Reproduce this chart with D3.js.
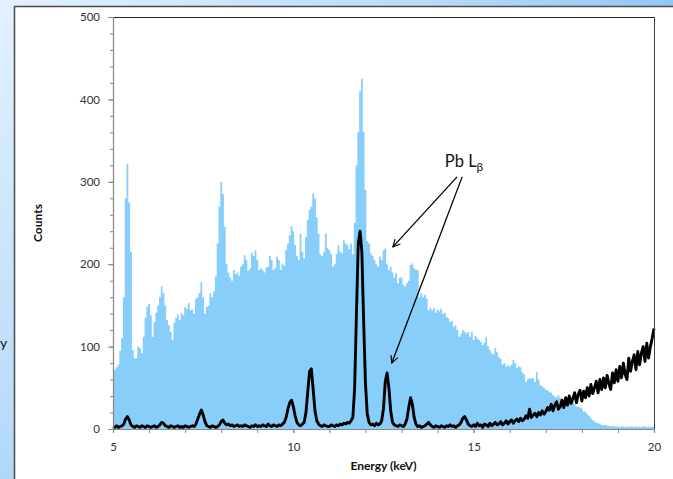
<!DOCTYPE html>
<html><head><meta charset="utf-8">
<script src="https://cdn.jsdelivr.net/npm/d3@7"></script>
<style>html,body{margin:0;padding:0;overflow:hidden;background:#fff}svg{display:block}</style>
</head><body>
<script>
// ---------- DATA ----------
const xTickValues = [5, 10, 15, 20];
const yTickValues = [0, 100, 200, 300, 400, 500];
const energyStart = 5;      // keV, first channel
const energyStep = 0.05;    // keV per channel
// light-blue spectrum (counts per channel, 5.00 .. 20.00 keV)
const blueCounts = [
  68, 72, 75, 78, 95, 110, 160, 280, 322, 275, 215, 96, 86, 86, 100, 98, 92, 112, 135, 148,
  152, 138, 112, 130, 141, 150, 160, 173, 165, 150, 132, 126, 118, 108, 129, 135, 139, 132, 141, 138,
  148, 146, 153, 144, 145, 140, 158, 160, 165, 178, 160, 140, 148, 150, 165, 160, 167, 185, 225, 270,
  300, 285, 245, 200, 190, 184, 180, 193, 188, 190, 186, 197, 200, 211, 205, 192, 195, 214, 210, 217,
  205, 193, 195, 193, 190, 196, 197, 210, 205, 193, 195, 209, 205, 193, 201, 198, 217, 225, 235, 246,
  240, 223, 210, 205, 237, 215, 207, 233, 254, 266, 270, 286, 280, 257, 237, 212, 210, 215, 237, 220,
  217, 212, 197, 200, 212, 223, 215, 213, 229, 225, 223, 218, 225, 212, 250, 320, 360, 410, 425, 360,
  290, 228, 225, 213, 210, 205, 200, 197, 209, 205, 217, 219, 200, 193, 197, 190, 184, 189, 177, 184,
  184, 175, 173, 177, 180, 199, 201, 195, 193, 193, 160, 165, 160, 163, 158, 144, 147, 144, 147, 141,
  145, 143, 146, 140, 141, 136, 134, 130, 131, 124, 126, 120, 112, 115, 120, 118, 116, 118, 112, 118,
  108, 113, 110, 108, 106, 102, 105, 112, 100, 96, 92, 90, 98, 93, 87, 85, 78, 80, 76, 77,
  76, 78, 84, 80, 74, 76, 75, 69, 66, 57, 60, 62, 61, 62, 57, 69, 60, 53, 52, 50,
  48, 47, 45, 44, 41, 39, 38, 41, 38, 33, 31, 34, 32, 31, 35, 34, 30, 27, 27, 26,
  25, 21, 21, 18, 16, 13, 11, 9, 8, 7, 6, 5, 5, 5, 4, 4, 3, 4, 3, 3,
  3, 2, 3, 3, 2, 3, 2, 3, 3, 2, 3, 2, 3, 2, 3, 3, 2, 3, 2, 3,
  2
];
// black spectrum (counts per channel, 5.00 .. 20.00 keV)
const blackCounts = [
  3, 2, 4, 2, 3, 4, 6, 12, 15, 11, 5, 3, 2, 4, 3, 2, 4, 3, 2, 4,
  3, 2, 3, 4, 2, 3, 5, 8, 7, 4, 3, 2, 4, 3, 2, 3, 4, 2, 3, 2,
  4, 3, 2, 3, 4, 3, 6, 12, 18, 23, 17, 9, 4, 3, 2, 4, 3, 2, 3, 5,
  9, 11, 7, 5, 6, 4, 5, 3, 4, 5, 3, 4, 3, 5, 4, 3, 2, 4, 3, 5,
  3, 4, 3, 5, 4, 3, 6, 4, 3, 5, 4, 3, 5, 4, 6, 8, 14, 24, 32, 35,
  27, 16, 8, 5, 4, 6, 8, 20, 45, 70, 73, 48, 22, 10, 6, 4, 3, 5, 4, 3,
  3, 5, 4, 3, 5, 4, 6, 5, 7, 6, 8, 7, 10, 14, 50, 140, 225, 240, 215, 130,
  55, 18, 8, 5, 6, 4, 7, 5, 6, 10, 25, 58, 68, 50, 22, 8, 5, 4, 3, 5,
  4, 3, 6, 12, 26, 38, 30, 14, 6, 3, 4, 2, 3, 4, 6, 8, 5, 3, 2, 4,
  3, 2, 4, 3, 2, 4, 3, 5, 3, 4, 2, 4, 5, 8, 13, 15, 11, 6, 4, 3,
  5, 3, 7, 4, 5, 2, 6, 5, 3, 7, 4, 6, 8, 5, 6, 9, 5, 7, 10, 6,
  9, 11, 7, 10, 12, 9, 13, 10, 12, 16, 13, 24, 14, 17, 19, 15, 20, 17, 22, 18,
  21, 26, 23, 30, 22, 29, 33, 24, 27, 35, 26, 38, 29, 40, 31, 37, 44, 32, 42, 47,
  34, 46, 38, 50, 40, 54, 43, 50, 58, 44, 60, 48, 62, 50, 65, 55, 48, 68, 56, 72,
  58, 76, 62, 80, 66, 60, 86, 70, 82, 90, 72, 94, 78, 92, 100, 82, 104, 86, 100, 110,
  122
];
const xTitle = "Energy (keV)";
const yTitle = "Counts";
const noteMain = "Pb L";
const noteSub = "β";
const noteAnchor = [14.2, 318];               // keV, counts (text baseline start)
const noteStarts = [[14.54, 306], [14.68, 306]];
const noteTargets = [[12.76, 221], [12.73, 80]];

// ---------- DRAW ----------
const W = 673, H = 479;
const svg = d3.select("body").append("svg").attr("width", W).attr("height", H);
const defs = svg.append("defs");
const rg = defs.append("radialGradient").attr("id", "bg")
  .attr("gradientUnits", "userSpaceOnUse").attr("cx", 0).attr("cy", 0).attr("r", 760);
rg.append("stop").attr("offset", 0).attr("stop-color", "#e3f1ff");
rg.append("stop").attr("offset", 0.55).attr("stop-color", "#b9dcfa");
rg.append("stop").attr("offset", 1).attr("stop-color", "#86c0f2");
const mk = defs.append("marker").attr("id", "arr").attr("viewBox", "0 0 10 10")
  .attr("refX", 9).attr("refY", 5).attr("markerWidth", 9).attr("markerHeight", 9)
  .attr("markerUnits", "userSpaceOnUse").attr("orient", "auto");
mk.append("path").attr("d", "M1,1 L9,5 L1,9").attr("fill", "none").attr("stroke", "#000").attr("stroke-width", 1.3);

svg.append("rect").attr("width", W).attr("height", H).attr("fill", "url(#bg)");
svg.append("text").attr("x", 0).attr("y", 348).attr("font-family", "Lato, sans-serif")
  .attr("font-size", 14).attr("fill", "#111").text("y");
svg.append("rect").attr("x", 14.5).attr("y", 6.5).attr("width", 700).attr("height", 500)
  .attr("fill", "#fff").attr("stroke", "#4a4a4a").attr("stroke-width", 1.5);

const x = d3.scaleLinear().domain([5, 20]).range([113, 654]);
const y = d3.scaleLinear().domain([0, 500]).range([429, 17]);
const energyAt = i => energyStart + i * energyStep;

const g = svg.append("g");
g.append("clipPath").attr("id", "clip").append("rect")
  .attr("x", x(5)).attr("y", y(500)).attr("width", x(20) - x(5)).attr("height", y(0) - y(500));

// blue area (channel histogram)
const area = d3.area().x((d, i) => x(energyAt(i))).y0(y(0)).y1(d => y(d)).curve(d3.curveStep);
g.append("path").datum(blueCounts).attr("d", area).attr("fill", "#87cefa").attr("clip-path", "url(#clip)");

// black line
const line = d3.line().x((d, i) => x(energyAt(i))).y(d => y(d));
g.append("path").datum(blackCounts).attr("d", line).attr("fill", "none")
  .attr("stroke", "#000").attr("stroke-width", 2.9).attr("stroke-linejoin", "round");

// frame: top and right
g.append("line").attr("x1", x(5)).attr("x2", x(20)).attr("y1", y(500) + 0.5).attr("y2", y(500) + 0.5)
  .attr("stroke", "#262626").attr("stroke-width", 1);
g.append("line").attr("x1", x(20) + 0.5).attr("x2", x(20) + 0.5).attr("y1", y(500)).attr("y2", y(0))
  .attr("stroke", "#404040").attr("stroke-width", 1);

const font = "Lato, 'Open Sans', sans-serif";
const yMinor = d3.axisLeft(y).tickValues(d3.range(0, 501, 20)).tickSize(3).tickFormat("");
const gy2 = g.append("g").attr("transform", `translate(${x(5)},0)`).call(yMinor);
const yAxis = d3.axisLeft(y).tickValues(yTickValues).tickSize(5).tickPadding(8).tickFormat(d3.format("d"));
const gy = g.append("g").attr("transform", `translate(${x(5)},0)`).call(yAxis);
const xMinor = d3.axisBottom(x).tickValues(d3.range(5, 21, 1)).tickSize(4).tickFormat("");
const gx2 = g.append("g").attr("transform", `translate(0,${y(0)})`).call(xMinor);
const xAxis = d3.axisBottom(x).tickValues(xTickValues).tickSize(4).tickPadding(10).tickFormat(d3.format("d"));
const gx = g.append("g").attr("transform", `translate(0,${y(0)})`).call(xAxis);
[gy, gy2, gx, gx2].forEach(a => {
  a.select(".domain").attr("stroke", "#868686").attr("stroke-width", 1.2);
  a.selectAll(".tick line").attr("stroke", "#868686");
  a.selectAll("text").attr("font-family", font).attr("font-size", 11.5).attr("fill", "#333");
});
gx2.select(".domain").remove();
gy2.select(".domain").remove();

svg.append("text").attr("transform", `translate(42,${(y(0) + y(500)) / 2}) rotate(-90)`)
  .attr("text-anchor", "middle").attr("font-family", font).attr("font-weight", "bold")
  .attr("font-size", 12).attr("fill", "#111").text(yTitle);
svg.append("text").attr("x", (x(5) + x(20)) / 2).attr("y", 470)
  .attr("text-anchor", "middle").attr("font-family", font).attr("font-weight", "bold")
  .attr("font-size", 12).attr("fill", "#111").text(xTitle);

const note = svg.append("text").attr("x", x(noteAnchor[0])).attr("y", y(noteAnchor[1]))
  .attr("font-family", font).attr("font-size", 16.5).attr("fill", "#111");
note.append("tspan").attr("fill", "#111").text(noteMain);
note.append("tspan").attr("fill", "#111").attr("font-size", 12).attr("dy", 4).text(noteSub);
noteStarts.forEach((s, i) => {
  const t = noteTargets[i];
  svg.append("line").attr("x1", x(s[0])).attr("y1", y(s[1])).attr("x2", x(t[0])).attr("y2", y(t[1]))
    .attr("stroke", "#000").attr("stroke-width", 1.3).attr("marker-end", "url(#arr)");
});
</script>
</body></html>
